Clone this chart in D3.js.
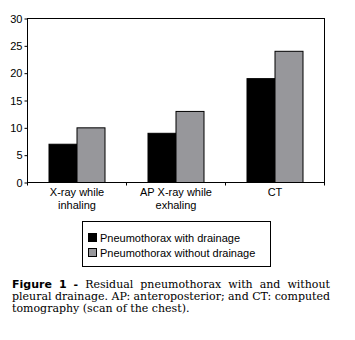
<!DOCTYPE html>
<html><head><meta charset="utf-8">
<script src="https://cdn.jsdelivr.net/npm/d3@7"></script>
<style>body{margin:0;background:#fff}svg{display:block}</style>
</head><body>
<script>
const categories = [["X-ray while","inhaling"],["AP X-ray while","exhaling"],["CT"]];
const seriesNames = ["Pneumothorax with drainage","Pneumothorax without drainage"];
const withDrainage = [7, 9, 19];
const withoutDrainage = [10, 13, 24];
const yTicks = [0, 5, 10, 15, 20, 25, 30];
const colors = ["#000000", "#97979b"];
const captionLines = [
  "Residual pneumothorax with and without",
  "pleural drainage. AP: anteroposterior; and CT: computed",
  "tomography (scan of the chest)."
];

const W = 355, H = 340;
const svg = d3.select("body").append("svg").attr("width", W).attr("height", H);
const L = 27.5, R = 324.5, T = 18.5, B = 182.5;
const catKeys = categories.map((c,i)=>i);
const x = d3.scaleBand().domain(catKeys).range([L, R]).padding(0);
const xs = d3.scaleBand().domain([0,1]).range([x.bandwidth()/2 - 28, x.bandwidth()/2 + 28]);
const y = d3.scaleLinear().domain([0, 30]).range([B, T]);
const font = "Liberation Sans, Arial, sans-serif";

svg.append("rect").attr("x", L).attr("y", T).attr("width", R-L).attr("height", B-T)
  .attr("fill","none").attr("stroke","#000").attr("stroke-width",1);

const data = [withDrainage, withoutDrainage];
catKeys.forEach(ci => {
  data.forEach((arr, si) => {
    svg.append("rect")
      .attr("x", x(ci) + xs(si))
      .attr("y", y(arr[ci]))
      .attr("width", xs.bandwidth())
      .attr("height", y(0) - y(arr[ci]))
      .attr("fill", colors[si]).attr("stroke", "#000").attr("stroke-width", 1);
  });
});

const yAxis = svg.append("g").attr("transform", `translate(${L},0)`)
  .call(d3.axisLeft(y).tickValues(yTicks).tickSize(3).tickPadding(2));
yAxis.select(".domain").remove();
yAxis.selectAll("text").attr("font-family", font).attr("font-size", 11).attr("fill","#000");

const xAxis = svg.append("g").attr("transform", `translate(0,${B})`);
[L, ...catKeys.map(k => x(k) + x.bandwidth())].forEach(px => {
  xAxis.append("line").attr("x1", px).attr("x2", px).attr("y1", 0).attr("y2", 3).attr("stroke","#000");
});
catKeys.forEach(k => {
  const t = xAxis.append("text").attr("text-anchor","middle")
    .attr("font-family", font).attr("font-size", 11).attr("fill","#000")
    .attr("transform", `translate(${x(k) + x.bandwidth()/2},0)`);
  categories[k].forEach((line, li) => {
    t.append("tspan").attr("x", 0).attr("y", 13 + li*13.5).text(line);
  });
});

const lg = svg.append("g");
lg.append("rect").attr("x", 82.5).attr("y", 221.5).attr("width", 188).attr("height", 45)
  .attr("fill","#fff").attr("stroke","#000");
seriesNames.forEach((name, i) => {
  lg.append("rect").attr("x", 88.5).attr("y", 233.5 + i*15).attr("width", 8).attr("height", 8)
    .attr("fill", colors[i]).attr("stroke","#000");
  lg.append("text").attr("x", 100).attr("y", 241.5 + i*15)
    .attr("font-family", font).attr("font-size", 11).attr("fill","#000").text(name);
});

const capFont = "DejaVu Serif, serif";
const capL = 12, capR = 330, capSize = 11;
const baselines = [288, 300, 312];
function justify(words, x0, x1, yb, justified) {
  const g = svg.append("g");
  const nodes = words.map(w => g.append("text").attr("y", yb)
    .attr("font-family", w.bold ? "DejaVu Sans, sans-serif" : capFont)
    .attr("font-weight", w.bold ? "bold" : "normal")
    .attr("font-size", w.bold ? 11 : capSize).attr("fill","#000").text(w.t));
  const widths = nodes.map(n => n.node().getComputedTextLength());
  const total = d3.sum(widths);
  const gap = justified && words.length > 1 ? (x1 - x0 - total) / (words.length - 1) : capSize*0.32;
  let cx = x0;
  nodes.forEach((n, i) => { n.attr("x", cx); cx += widths[i] + gap; });
}
const line1 = [{t:"Figure", bold:true},{t:"1", bold:true},{t:"-", bold:true}]
  .concat(captionLines[0].split(" ").map(t=>({t})));
justify(line1, capL, capR, baselines[0], true);
justify(captionLines[1].split(" ").map(t=>({t})), capL, capR, baselines[1], true);
justify(captionLines[2].split(" ").map(t=>({t})), capL, capR, baselines[2], false);
</script>
</body></html>
